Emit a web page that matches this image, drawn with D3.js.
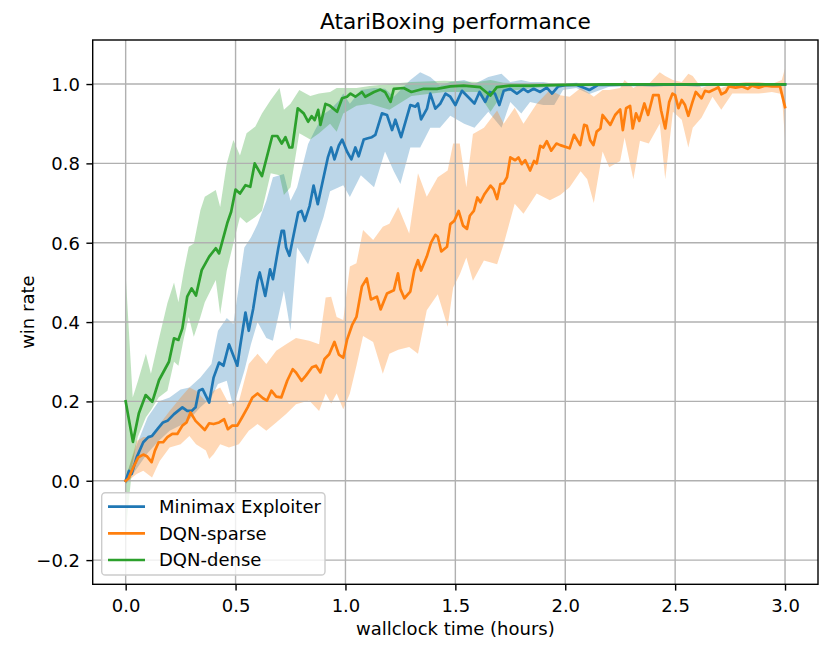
<!DOCTYPE html>
<html>
<head>
<meta charset="utf-8">
<script src="https://cdn.jsdelivr.net/npm/d3@7"></script>
<style>
  html, body { margin: 0; padding: 0; background: #fff; }
  svg { display: block; font-family: "DejaVu Sans", sans-serif; }
</style>
</head>
<body>
<svg id="chart" width="831" height="652"></svg>
<script>
// ---------------- data ----------------
const chartTitle = "AtariBoxing performance";
const xLabel = "wallclock time (hours)";
const yLabel = "win rate";
const xTicks = [0, 0.5, 1.0, 1.5, 2.0, 2.5, 3.0];
const xTickLabels = ["0.0", "0.5", "1.0", "1.5", "2.0", "2.5", "3.0"];
const yTicks = [-0.2, 0, 0.2, 0.4, 0.6, 0.8, 1.0];
const yTickLabels = ["\u22120.2", "0.0", "0.2", "0.4", "0.6", "0.8", "1.0"];
const seriesNames = ["Minimax Exploiter", "DQN-sparse", "DQN-dense"];
const seriesColors = ["#1f77b4", "#ff7f0e", "#2ca02c"];

// [hours, mean win rate]
const minimaxMean = [[0,0],[0.015,0.025],[0.027,0.017],[0.05,0.059],[0.08,0.097],[0.103,0.11],[0.12,0.113],[0.15,0.134],[0.17,0.147],[0.19,0.151],[0.22,0.168],[0.258,0.185],[0.28,0.176],[0.30,0.176],[0.318,0.185],[0.333,0.227],[0.35,0.231],[0.38,0.197],[0.40,0.26],[0.425,0.298],[0.445,0.29],[0.47,0.344],[0.508,0.29],[0.52,0.336],[0.545,0.424],[0.56,0.378],[0.58,0.433],[0.60,0.504],[0.61,0.525],[0.635,0.466],[0.657,0.533],[0.67,0.508],[0.695,0.588],[0.71,0.63],[0.72,0.63],[0.73,0.588],[0.745,0.567],[0.765,0.622],[0.785,0.676],[0.80,0.68],[0.815,0.655],[0.837,0.693],[0.855,0.744],[0.874,0.697],[0.897,0.756],[0.92,0.815],[0.935,0.84],[0.95,0.81],[0.97,0.845],[0.985,0.86],[1.007,0.83],[1.027,0.81],[1.045,0.84],[1.06,0.818],[1.083,0.86],[1.106,0.864],[1.12,0.866],[1.136,0.872],[1.166,0.926],[1.189,0.922],[1.212,0.884],[1.227,0.91],[1.253,0.866],[1.295,0.947],[1.318,0.943],[1.33,0.951],[1.344,0.911],[1.371,0.938],[1.386,0.976],[1.409,0.938],[1.432,0.951],[1.455,0.976],[1.477,0.968],[1.50,0.947],[1.53,0.983],[1.557,0.968],[1.587,0.951],[1.61,0.98],[1.636,0.955],[1.656,0.98],[1.68,0.976],[1.70,0.947],[1.72,0.983],[1.75,0.988],[1.78,0.976],[1.81,0.988],[1.83,0.98],[1.856,0.988],[1.886,0.98],[1.916,0.991],[1.94,0.976],[1.968,0.994],[2.0,0.997],[2.05,0.998],[2.11,0.985],[2.15,0.998],[2.2,0.998],[2.3,0.999],[2.4,0.998],[2.5,0.999],[2.6,0.998],[2.7,0.999],[2.8,0.999],[2.9,0.999],[3.0,0.999]];
const sparseMean = [[0,0],[0.012,0.005],[0.035,0.034],[0.057,0.059],[0.08,0.066],[0.098,0.061],[0.118,0.047],[0.133,0.076],[0.15,0.097],[0.17,0.097],[0.19,0.11],[0.212,0.118],[0.235,0.118],[0.258,0.139],[0.277,0.147],[0.295,0.172],[0.318,0.151],[0.34,0.139],[0.36,0.128],[0.38,0.145],[0.40,0.143],[0.425,0.147],[0.448,0.155],[0.465,0.13],[0.485,0.139],[0.508,0.139],[0.53,0.16],[0.555,0.185],[0.577,0.21],[0.60,0.22],[0.625,0.208],[0.643,0.202],[0.663,0.227],[0.685,0.212],[0.708,0.21],[0.735,0.252],[0.76,0.281],[0.775,0.273],[0.80,0.252],[0.82,0.265],[0.848,0.286],[0.866,0.29],[0.886,0.273],[0.905,0.307],[0.926,0.319],[0.95,0.35],[0.97,0.318],[0.99,0.31],[1.007,0.355],[1.03,0.392],[1.05,0.413],[1.075,0.49],[1.097,0.51],[1.116,0.457],[1.143,0.464],[1.16,0.432],[1.189,0.472],[1.22,0.48],[1.239,0.523],[1.25,0.483],[1.268,0.46],[1.295,0.477],[1.313,0.53],[1.33,0.556],[1.344,0.53],[1.37,0.565],[1.39,0.601],[1.409,0.62],[1.42,0.615],[1.436,0.578],[1.462,0.59],[1.477,0.647],[1.495,0.655],[1.515,0.68],[1.535,0.643],[1.553,0.635],[1.566,0.668],[1.584,0.68],[1.60,0.714],[1.614,0.702],[1.633,0.723],[1.66,0.744],[1.674,0.735],[1.69,0.71],[1.705,0.748],[1.72,0.75],[1.735,0.765],[1.75,0.815],[1.772,0.808],[1.787,0.815],[1.802,0.798],[1.818,0.808],[1.84,0.782],[1.858,0.806],[1.87,0.80],[1.886,0.844],[1.90,0.84],[1.916,0.856],[1.936,0.832],[1.96,0.85],[1.977,0.846],[2.02,0.838],[2.04,0.872],[2.068,0.846],[2.086,0.897],[2.098,0.895],[2.113,0.859],[2.128,0.846],[2.143,0.88],[2.16,0.888],[2.17,0.922],[2.205,0.897],[2.227,0.922],[2.25,0.936],[2.262,0.884],[2.277,0.939],[2.295,0.945],[2.307,0.888],[2.322,0.926],[2.337,0.907],[2.36,0.951],[2.377,0.922],[2.40,0.972],[2.425,0.972],[2.436,0.934],[2.455,0.888],[2.473,0.955],[2.488,0.976],[2.50,0.972],[2.515,0.939],[2.53,0.96],[2.545,0.947],[2.56,0.92],[2.579,0.955],[2.594,0.98],[2.61,0.97],[2.62,0.964],[2.636,0.983],[2.654,0.98],[2.677,0.986],[2.697,0.992],[2.71,0.974],[2.73,0.98],[2.745,0.994],[2.775,0.991],[2.805,0.994],[2.83,0.988],[2.85,0.996],[2.88,0.991],[2.91,0.996],[2.94,0.994],[2.977,0.994],[3.0,0.942]];
const denseMean = [[0,0.20],[0.033,0.098],[0.06,0.17],[0.091,0.216],[0.121,0.199],[0.152,0.254],[0.197,0.30],[0.22,0.359],[0.24,0.355],[0.258,0.384],[0.28,0.464],[0.30,0.485],[0.32,0.467],[0.346,0.531],[0.38,0.565],[0.41,0.586],[0.425,0.573],[0.462,0.649],[0.48,0.678],[0.50,0.734],[0.52,0.724],[0.545,0.745],[0.567,0.741],[0.587,0.80],[0.62,0.768],[0.667,0.869],[0.69,0.869],[0.71,0.85],[0.727,0.866],[0.745,0.84],[0.758,0.84],[0.783,0.939],[0.81,0.926],[0.83,0.905],[0.846,0.919],[0.86,0.909],[0.876,0.935],[0.886,0.897],[0.909,0.95],[0.93,0.945],[0.962,0.93],[0.985,0.964],[1.007,0.968],[1.023,0.976],[1.045,0.968],[1.075,0.98],[1.09,0.968],[1.13,0.98],[1.159,0.986],[1.18,0.98],[1.205,0.955],[1.22,0.988],[1.265,0.99],[1.30,0.98],[1.356,0.988],[1.416,0.988],[1.477,0.994],[1.538,0.996],[1.613,0.992],[1.659,0.971],[1.689,0.992],[1.75,0.996],[1.84,0.996],[1.99,0.998],[2.2,0.999],[2.5,0.999],[2.8,0.999],[3.0,0.999]];

// [hours, lower, upper] of the shaded spread
const minimaxBand = [[0,-0.01,0.01],[0.05,0.03,0.09],[0.10,0.07,0.16],[0.15,0.10,0.20],[0.20,0.126,0.21],[0.25,0.14,0.23],[0.29,0.155,0.235],[0.34,0.185,0.26],[0.39,0.21,0.294],[0.42,0.244,0.378],[0.46,0.252,0.41],[0.49,0.185,0.395],[0.54,0.277,0.588],[0.57,0.344,0.613],[0.60,0.40,0.647],[0.64,0.36,0.706],[0.67,0.353,0.765],[0.72,0.479,0.773],[0.75,0.378,0.706],[0.78,0.588,0.74],[0.83,0.546,0.849],[0.86,0.597,0.882],[0.90,0.664,0.924],[0.93,0.73,0.935],[0.97,0.74,0.958],[0.99,0.745,0.976],[1.02,0.715,0.95],[1.07,0.77,0.985],[1.13,0.74,0.99],[1.18,0.83,0.988],[1.22,0.78,0.968],[1.25,0.748,0.985],[1.295,0.84,1.01],[1.34,0.84,1.03],[1.386,0.89,1.018],[1.43,0.89,0.996],[1.477,0.92,1.005],[1.54,0.90,1.01],[1.587,0.89,1.0],[1.65,0.93,1.018],[1.71,0.89,1.026],[1.75,0.955,1.005],[1.80,0.926,1.01],[1.84,0.955,1.005],[1.90,0.947,1.005],[1.95,0.947,1.0],[1.99,0.985,1.0],[2.05,0.99,1.003],[2.11,0.975,1.0],[2.2,0.993,1.002],[2.5,0.995,1.002],[3.0,0.995,1.002]];
const sparseBand = [[0,-0.005,0.005],[0.05,0.017,0.10],[0.08,0.025,0.11],[0.12,0.008,0.11],[0.155,0.05,0.143],[0.20,0.084,0.176],[0.25,0.092,0.21],[0.29,0.113,0.235],[0.32,0.092,0.227],[0.365,0.076,0.20],[0.38,0.055,0.215],[0.40,0.067,0.227],[0.43,0.092,0.235],[0.47,0.084,0.193],[0.515,0.092,0.20],[0.56,0.126,0.294],[0.60,0.143,0.32],[0.64,0.126,0.294],[0.685,0.147,0.328],[0.73,0.168,0.344],[0.775,0.193,0.36],[0.835,0.202,0.353],[0.88,0.176,0.344],[0.91,0.22,0.462],[0.935,0.195,0.464],[0.96,0.22,0.413],[0.99,0.18,0.405],[1.02,0.22,0.54],[1.05,0.29,0.548],[1.08,0.365,0.632],[1.126,0.35,0.607],[1.17,0.27,0.64],[1.2,0.32,0.648],[1.24,0.33,0.69],[1.29,0.337,0.623],[1.33,0.32,0.775],[1.37,0.43,0.716],[1.42,0.47,0.765],[1.465,0.388,0.782],[1.49,0.487,0.85],[1.52,0.52,0.85],[1.55,0.563,0.74],[1.58,0.504,0.874],[1.63,0.555,0.89],[1.69,0.546,0.933],[1.72,0.597,0.9],[1.77,0.698,0.94],[1.81,0.673,0.9],[1.87,0.724,0.95],[1.93,0.707,0.985],[1.977,0.72,0.972],[2.02,0.74,0.968],[2.07,0.78,0.99],[2.1,0.76,0.98],[2.13,0.70,0.968],[2.17,0.83,0.985],[2.2,0.79,0.985],[2.25,0.806,0.99],[2.27,0.865,1.01],[2.31,0.76,0.99],[2.34,0.857,1.0],[2.38,0.85,1.0],[2.43,0.9,1.03],[2.455,0.76,1.02],[2.49,0.93,1.01],[2.53,0.91,1.005],[2.56,0.84,1.026],[2.58,0.89,1.02],[2.62,0.915,0.99],[2.67,0.968,1.0],[2.71,0.935,0.99],[2.76,0.976,1.0],[2.82,0.976,1.005],[2.88,0.976,1.005],[2.94,0.98,1.0],[2.985,0.975,1.01],[3.0,0.86,1.04]];
const denseBand = [[0,-0.13,0.52],[0.032,0.045,0.21],[0.055,0.11,0.25],[0.092,0.16,0.32],[0.115,0.178,0.27],[0.15,0.21,0.355],[0.19,0.227,0.448],[0.22,0.30,0.50],[0.24,0.29,0.45],[0.265,0.36,0.53],[0.287,0.413,0.59],[0.31,0.363,0.598],[0.34,0.413,0.682],[0.36,0.45,0.716],[0.41,0.506,0.733],[0.43,0.42,0.69],[0.46,0.53,0.80],[0.49,0.598,0.859],[0.52,0.665,0.82],[0.55,0.65,0.876],[0.59,0.665,0.893],[0.62,0.68,0.926],[0.66,0.775,0.96],[0.70,0.77,0.99],[0.72,0.72,0.935],[0.75,0.74,0.95],[0.79,0.876,0.985],[0.84,0.86,0.97],[0.88,0.876,0.976],[0.93,0.90,0.98],[0.96,0.88,0.99],[0.99,0.926,0.99],[1.05,0.945,0.99],[1.11,0.95,0.995],[1.2,0.935,1.0],[1.3,0.97,1.005],[1.45,0.98,1.008],[1.6,0.98,1.005],[1.66,0.93,1.01],[1.72,0.98,1.003],[1.85,0.99,1.002],[2.0,0.995,1.001],[3.0,0.997,1.001]];

// ---------------- drawing ----------------
const svg = d3.select("#chart");
const plot = { left: 92.7, right: 818, top: 40, bottom: 584.3 };
const x = d3.scaleLinear().domain([-0.15, 3.15]).range([plot.left, plot.right]);
const y = d3.scaleLinear().domain([-0.261, 1.111]).range([plot.bottom, plot.top]);

svg.append("rect").attr("width", 831).attr("height", 652).attr("fill", "#fff");

const clip = svg.append("defs").append("clipPath").attr("id", "clip")
  .append("rect").attr("x", plot.left).attr("y", plot.top)
  .attr("width", plot.right - plot.left).attr("height", plot.bottom - plot.top);

const bands = [minimaxBand, sparseBand, denseBand];
const means = [minimaxMean, sparseMean, denseMean];

const area = d3.area().x(d => x(d[0])).y0(d => y(d[1])).y1(d => y(d[2]));
const line = d3.line().x(d => x(d[0])).y(d => y(d[1]));

const body = svg.append("g").attr("clip-path", "url(#clip)");
bands.forEach((b, i) => {
  body.append("path").datum(b).attr("d", area)
    .attr("fill", seriesColors[i]).attr("fill-opacity", 0.3).attr("stroke", "none");
});

// grid (drawn above fills, below lines as in matplotlib)
const grid = svg.append("g");
grid.selectAll(".gx").data(xTicks).join("line")
  .attr("x1", d => x(d)).attr("x2", d => x(d))
  .attr("y1", plot.top).attr("y2", plot.bottom)
  .attr("stroke", "#b0b0b0").attr("stroke-width", 1.4);
grid.selectAll(".gy").data(yTicks).join("line")
  .attr("x1", plot.left).attr("x2", plot.right)
  .attr("y1", d => y(d)).attr("y2", d => y(d))
  .attr("stroke", "#b0b0b0").attr("stroke-width", 1.4);

const lines = svg.append("g").attr("clip-path", "url(#clip)");
means.forEach((m, i) => {
  lines.append("path").datum(m).attr("d", line)
    .attr("fill", "none").attr("stroke", seriesColors[i])
    .attr("stroke-width", 2.7).attr("stroke-linejoin", "round").attr("stroke-linecap", "square");
});

// axes via d3 axis generators
const xAxis = d3.axisBottom(x).tickValues(xTicks).tickFormat((d, i) => xTickLabels[i])
  .tickSize(6.3).tickPadding(6);
const yAxis = d3.axisLeft(y).tickValues(yTicks).tickFormat((d, i) => yTickLabels[i])
  .tickSize(6.3).tickPadding(6);

const gx = svg.append("g").attr("transform", `translate(0,${plot.bottom})`).call(xAxis);
const gy = svg.append("g").attr("transform", `translate(${plot.left},0)`).call(yAxis);
[gx, gy].forEach(g => {
  g.select(".domain").remove();
  g.selectAll(".tick line").attr("stroke", "#000").attr("stroke-width", 1.4);
  g.selectAll(".tick text").attr("fill", "#000").attr("font-size", 18)
    .attr("font-family", "DejaVu Sans");
});
gx.selectAll(".tick text").attr("dy", null).attr("y", 27.4);
gy.selectAll(".tick text").attr("dy", "0.35em").attr("x", -12.7);

// frame
svg.append("rect").attr("x", plot.left).attr("y", plot.top)
  .attr("width", plot.right - plot.left).attr("height", plot.bottom - plot.top)
  .attr("fill", "none").attr("stroke", "#000").attr("stroke-width", 1.4);

// texts
svg.append("text").attr("x", (plot.left + plot.right) / 2).attr("y", 29)
  .attr("text-anchor", "middle").attr("font-size", 21.7).attr("fill", "#000").text(chartTitle);
svg.append("text").attr("x", (plot.left + plot.right) / 2).attr("y", 635)
  .attr("text-anchor", "middle").attr("font-size", 18).attr("fill", "#000").text(xLabel);
svg.append("text").attr("transform", `translate(34,${(plot.top + plot.bottom) / 2}) rotate(-90)`)
  .attr("text-anchor", "middle").attr("font-size", 18).attr("fill", "#000").text(yLabel);

// legend
const lg = svg.append("g");
lg.append("rect").attr("x", 101.7).attr("y", 492.7).attr("width", 223.3).attr("height", 82.3)
  .attr("rx", 3.6).attr("fill", "#fff").attr("fill-opacity", 0.8)
  .attr("stroke", "#cccccc").attr("stroke-width", 1.4);
const rowY = [506.7, 533.3, 560];
seriesNames.forEach((n, i) => {
  lg.append("line").attr("x1", 108).attr("x2", 145).attr("y1", rowY[i]).attr("y2", rowY[i])
    .attr("stroke", seriesColors[i]).attr("stroke-width", 2.7);
  lg.append("text").attr("x", 159).attr("y", rowY[i]).attr("dy", "0.35em")
    .attr("font-size", 18).attr("fill", "#000").text(n);
});
</script>
</body>
</html>
